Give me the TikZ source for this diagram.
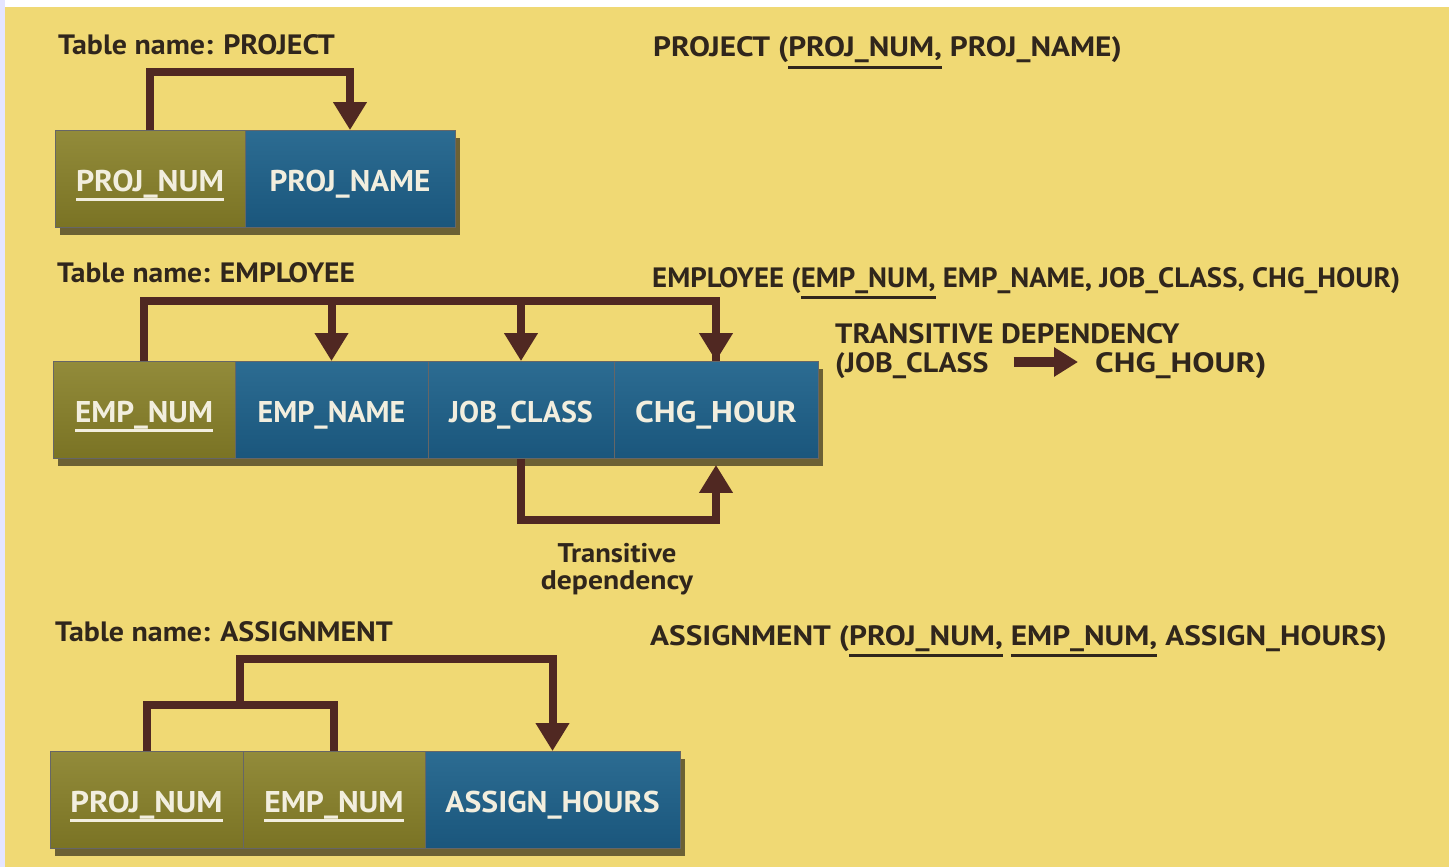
\documentclass[tikz,border=0pt]{standalone}
\usepackage{fontspec}
\usepackage{graphicx}
\setmainfont{PT Sans}
\usetikzlibrary{arrows.meta,shadows,calc}
\definecolor{bgyellow}{RGB}{240,217,116}
\definecolor{olivebox}{RGB}{122,115,36}
\definecolor{olivetop}{RGB}{146,139,58}
\definecolor{bluebox}{RGB}{26,86,124}
\definecolor{bluetop}{RGB}{44,108,146}
\definecolor{brownline}{RGB}{80,40,34}
\definecolor{darktext}{RGB}{48,38,28}
\definecolor{boxtext}{RGB}{242,238,222}
\newcommand\keyul[1]{\setbox0=\hbox{#1}\rlap{\rule[-0.32em]{\wd0}{0.1em}}\box0\relax}
\newcommand\relul[1]{\setbox0=\hbox{#1}\rlap{\rule[-0.42em]{\wd0}{0.1em}}\box0\relax}
\newcommand\hs[2]{\scalebox{#1}[1]{#2}}
\tikzset{
  tbox/.style={rectangle, inner sep=0pt, minimum height=97pt, draw=black!60, line width=0.8pt,
    text=boxtext, font=\fontsize{30}{31}\selectfont\bfseries, text height=24pt, text depth=0pt,
    drop shadow={shadow xshift=5pt, shadow yshift=-7pt, opacity=0.55, fill=black}},
  keybox/.style={tbox, top color=olivetop, bottom color=olivebox},
  valbox/.style={tbox, top color=bluetop, bottom color=bluebox},
  title/.style={inner sep=0pt, anchor=base west, text=darktext, font=\fontsize{28}{30}\selectfont\bfseries},
  conn/.style={draw=brownline, line width=8pt, line join=miter},
  tip/.style={-{Triangle[width=32pt,length=28pt]}},
}
\begin{document}
\begin{tikzpicture}[x=1pt,y=-1pt]
\useasboundingbox (0,0) rectangle (1449,867);
\fill[bgyellow] (0,0) rectangle (1449,867);
\fill[white] (0,0) rectangle (1449,7);
\fill[white!90!blue] (0,0) rectangle (5,867);

% ---------- PROJECT ----------
\node[title] (t1) at (58,55) {\hs{1.07}{Table name: PROJECT}};
\node[keybox, minimum width=190pt] (pn) at (150,179) {\hs{1.06}{\keyul{PROJ\_NUM}}};
\node[valbox, minimum width=210pt] (pname) at (350,179) {\hs{1.04}{PROJ\_NAME}};
\draw[conn,tip] (pn.north) -- ++(0,-58) -| (pname.north);
\node[title] (r1) at (653,57) {\hs{1.12}{PROJECT (\relul{PROJ\_NUM,} PROJ\_NAME)}};

% ---------- EMPLOYEE ----------
\node[title] (t2) at (57,282) {\hs{1.055}{Table name: EMPLOYEE}};
\node[keybox, minimum width=182pt] (en) at (144,410) {\hs{1.04}{\keyul{EMP\_NUM}}};
\node[valbox, minimum width=193pt] (ename) at (331.5,410) {\hs{1.0}{EMP\_NAME}};
\node[valbox, minimum width=186pt] (jc) at (521,410) {\hs{1.0}{JOB\_CLASS}};
\node[valbox, minimum width=204pt] (cg) at (716,410) {\hs{1.12}{CHG\_HOUR}};
\draw[conn] (en.north) -- ++(0,-60) coordinate (etop) -| (cg.north);
\draw[conn,tip] (etop -| cg.north) -- (cg.north);
\draw[conn,tip] (etop -| ename.north) -- (ename.north);
\draw[conn,tip] (etop -| jc.north) -- (jc.north);
\draw[conn,tip] (jc.south) -- ++(0,61) -| ([yshift=-6pt]cg.south);
\node[inner sep=0pt, anchor=base, text=darktext, font=\fontsize{27}{28}\selectfont\bfseries] (tdlab1) at (617,562) {\hs{1.06}{Transitive}};
\node[inner sep=0pt, anchor=base, text=darktext, font=\fontsize{27}{28}\selectfont\bfseries] (tdlab2) at (617,589) {\hs{1.1}{dependency}};
\node[title] (r2) at (652,287) {\hs{1.03}{EMPLOYEE (\relul{EMP\_NUM,} EMP\_NAME, JOB\_CLASS, CHG\_HOUR)}};
\node[title] (td) at (835,343) {\hs{1.09}{TRANSITIVE DEPENDENCY}};
\node[title] (tdl) at (835,372) {\hs{1.07}{(JOB\_CLASS}};
\node[title] (tdr) at (1095,372) {\hs{1.19}{CHG\_HOUR)}};
\draw[draw=brownline, line width=10pt, -{Triangle[width=28pt,length=24pt]}] ([xshift=25pt,yshift=10pt]tdl.base east) -- ([xshift=-17pt,yshift=10pt]tdr.base west);

% ---------- ASSIGNMENT ----------
\node[title] (t3) at (55,641) {\hs{1.07}{Table name: ASSIGNMENT}};
\node[keybox, minimum width=193pt] (p3) at (146.5,800) {\hs{1.09}{\keyul{PROJ\_NUM}}};
\node[keybox, minimum width=182pt] (e3) at (334,800) {\hs{1.05}{\keyul{EMP\_NUM}}};
\node[valbox, minimum width=255pt] (ah) at (552.5,800) {\hs{1.06}{ASSIGN\_HOURS}};
\draw[conn] (p3.north) -- ++(0,-46) -| (e3.north);
\coordinate (amid) at ($(p3.north)!0.5!(e3.north)+(0,-46)$);
\draw[conn,tip] (amid) -- ++(0,-46) -| (ah.north);
\node[title] (r3) at (650,645) {\hs{1.12}{ASSIGNMENT (\relul{PROJ\_NUM,} \relul{EMP\_NUM,} ASSIGN\_HOURS)}};
\end{tikzpicture}
\end{document}
